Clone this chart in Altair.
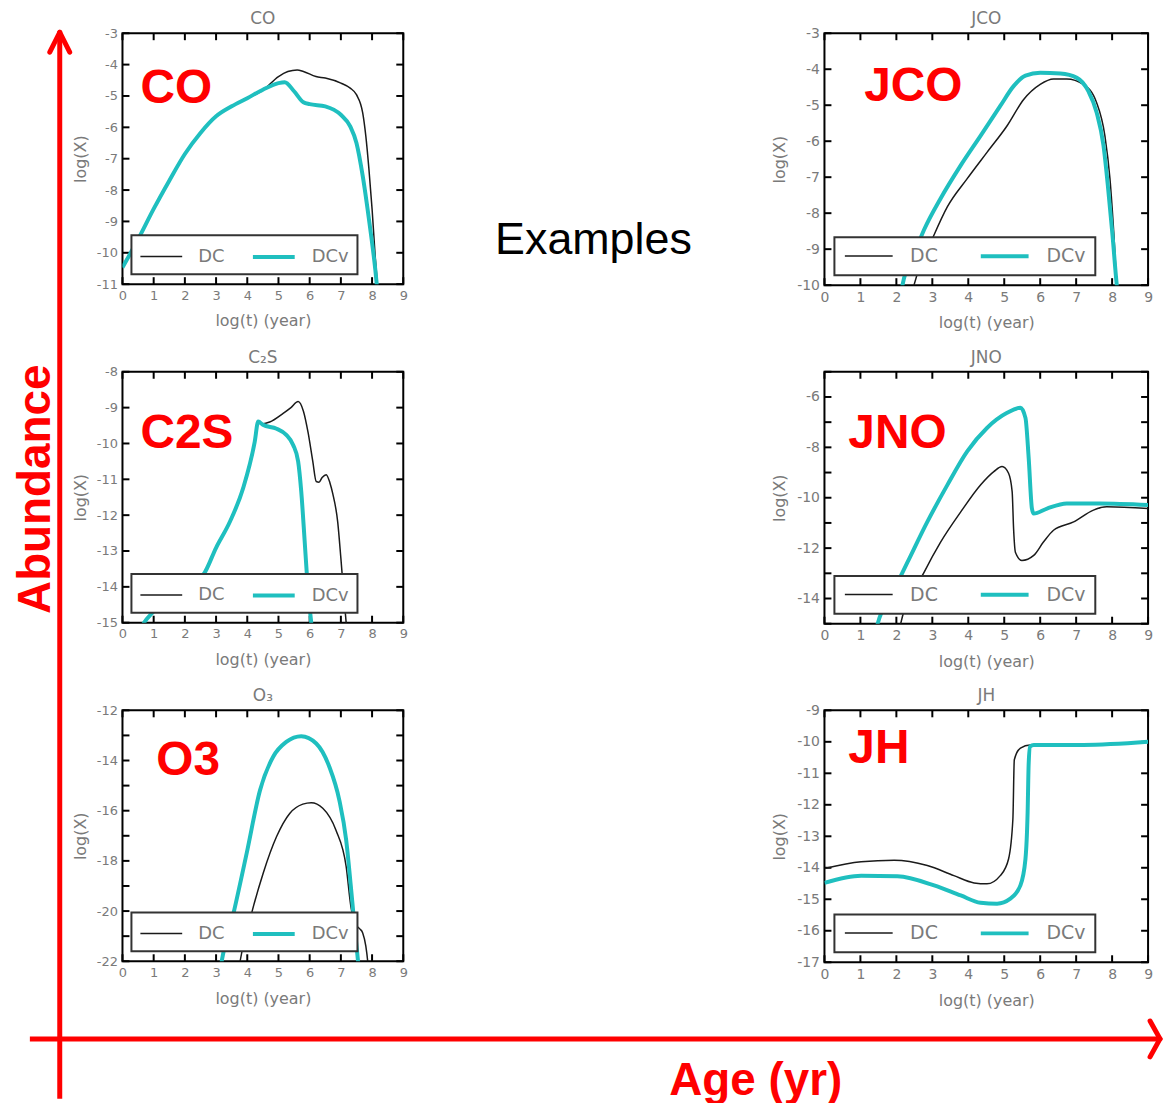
import altair as alt
import pandas as pd

# ---------------- data ----------------
MODELS = ["DC", "DCv"]
MODEL_COLORS = ["#1a1a1a", "#1fbfbf"]
MODEL_WIDTHS = [1.5, 4.0]
T_TICKS = list(range(0, 10))

# CO
co_t_dcv = [0, 0.5, 1, 1.5, 2, 2.5, 3, 3.5, 4, 4.5, 5, 5.2, 5.5, 5.8, 6, 6.5, 7, 7.3, 7.5, 7.7, 7.9, 8.1, 8.25]
co_x_dcv = [-10.47, -9.57, -8.6, -7.7, -6.85, -6.18, -5.65, -5.33, -5.07, -4.8, -4.59, -4.56, -4.85, -5.2, -5.26, -5.33, -5.6, -5.97, -6.5, -7.55, -8.93, -10.5, -12]
co_t_dc = [0, 0.5, 1, 1.5, 2, 2.5, 3, 3.5, 4, 4.5, 5, 5.3, 5.6, 5.8, 6.2, 6.5, 7, 7.3, 7.5, 7.7, 7.8, 7.9, 8.0, 8.1, 8.25]
co_x_dc = [-10.47, -9.57, -8.6, -7.7, -6.85, -6.18, -5.65, -5.33, -5.07, -4.82, -4.38, -4.22, -4.17, -4.22, -4.38, -4.43, -4.59, -4.75, -4.96, -5.54, -6.28, -7.34, -8.6, -10.1, -12]

# C2S
c2s_t_dcv = [0.5, 0.69, 0.96, 1.5, 2.0, 2.6, 3.0, 3.45, 3.87, 4.24, 4.35, 4.5, 4.94, 5.25, 5.47, 5.63, 5.73, 5.84, 5.91, 6.0, 6.05, 6.1]
c2s_x_dcv = [-15.3, -15.0, -14.72, -14.3, -14.0, -13.65, -12.91, -12.17, -11.24, -9.95, -9.39, -9.48, -9.59, -9.76, -10.04, -10.5, -11.34, -12.73, -13.65, -14.58, -15.0, -15.5]
c2s_t_dc = [0.5, 0.69, 0.96, 1.5, 2.0, 2.6, 3.0, 3.45, 3.87, 4.24, 4.35, 4.5, 4.72, 5.15, 5.4, 5.63, 5.8, 5.95, 6.1, 6.21, 6.3, 6.4, 6.53, 6.65, 6.74, 6.9, 7.0, 7.11, 7.17, 7.25]
c2s_x_dc = [-15.3, -15.0, -14.72, -14.3, -14.0, -13.65, -12.91, -12.17, -11.24, -9.95, -9.39, -9.45, -9.4, -9.16, -9.0, -8.83, -9.1, -9.7, -10.5, -11.06, -11.08, -10.95, -10.87, -11.1, -11.4, -12.2, -13.2, -14.4, -15.0, -15.8]

# O3
o3_t_dcv = [3.1, 3.18, 3.56, 3.98, 4.41, 4.83, 5.25, 5.73, 6.21, 6.63, 6.95, 7.17, 7.32, 7.46, 7.55, 7.6]
o3_x_dcv = [-22.6, -22.0, -20.08, -17.7, -15.18, -13.85, -13.26, -13.03, -13.32, -14.25, -15.58, -17.17, -19.02, -20.87, -22.0, -22.6]
o3_t_dc = [3.7, 3.77, 4.14, 4.51, 4.94, 5.36, 5.78, 6.05, 6.42, 6.84, 7.17, 7.32, 7.45, 7.6, 7.7, 7.8, 7.86, 7.9]
o3_x_dc = [-22.6, -22.0, -20.08, -18.49, -17.03, -16.11, -15.74, -15.68, -15.9, -16.77, -18.23, -19.81, -20.5, -20.7, -20.87, -21.4, -22.0, -22.6]

# JCO
jco_t_dcv = [2.1, 2.17, 2.49, 2.77, 3.23, 3.79, 4.34, 4.89, 5.26, 5.59, 6.0, 6.56, 7.02, 7.34, 7.57, 7.76, 7.89, 8.01, 8.13, 8.2]
jco_x_dcv = [-10.5, -10.0, -9.15, -8.46, -7.59, -6.67, -5.85, -5.02, -4.47, -4.18, -4.1, -4.12, -4.24, -4.61, -5.2, -6.12, -7.32, -8.6, -10.0, -10.6]
jco_t_dc = [2.4, 2.49, 3.05, 3.42, 3.97, 4.52, 5.08, 5.54, 6.0, 6.37, 6.74, 7.2, 7.57, 7.8, 7.94, 8.05, 8.13, 8.2]
jco_x_dc = [-10.4, -10.0, -8.6, -7.82, -7.04, -6.31, -5.57, -4.84, -4.42, -4.27, -4.27, -4.42, -4.93, -5.85, -7.04, -8.6, -10.0, -10.6]

# JNO
jno_t_dcv = [1.4, 1.48, 1.85, 2.31, 2.86, 3.42, 3.97, 4.52, 5.08, 5.45, 5.59, 5.68, 5.77, 5.82, 6.19, 6.74, 7.66, 9.0]
jno_x_dcv = [-15.5, -15.0, -13.9, -12.56, -10.96, -9.49, -8.16, -7.23, -6.63, -6.43, -6.83, -8.43, -10.43, -10.63, -10.43, -10.23, -10.23, -10.29]
jno_t_dc = [2.05, 2.12, 2.77, 3.23, 3.79, 4.34, 4.71, 4.94, 5.12, 5.22, 5.26, 5.31, 5.49, 5.82, 6.09, 6.37, 6.93, 7.48, 7.85, 9.0]
jno_x_dc = [-15.5, -15.0, -12.96, -11.76, -10.56, -9.49, -8.96, -8.76, -9.03, -9.76, -11.23, -12.16, -12.49, -12.29, -11.76, -11.29, -10.96, -10.49, -10.36, -10.43]

# JH
jh_t_dcv = [0, 1.02, 2.03, 3.05, 3.79, 4.34, 4.8, 5.17, 5.45, 5.59, 5.65, 5.68, 5.72, 5.82, 7.2, 9.0]
jh_x_dcv = [-14.48, -14.25, -14.27, -14.56, -14.88, -15.11, -15.14, -14.98, -14.56, -13.72, -12.25, -10.68, -10.15, -10.1, -10.1, -10.0]
jh_t_dc = [0, 1.02, 1.94, 2.86, 3.6, 4.16, 4.52, 4.89, 5.12, 5.24, 5.28, 5.45, 5.72, 7.2, 9.0]
jh_x_dc = [-14.02, -13.81, -13.76, -13.93, -14.25, -14.48, -14.51, -14.25, -13.72, -12.46, -10.57, -10.2, -10.1, -10.1, -10.0]

# ---------------- styling ----------------
GRAY = "#7a7a7a"
FONT = "DejaVu Sans"
RED = "#ff0000"
ONE = pd.DataFrame({"k": [0]})
X_TITLE = "log(t) (year)"
Y_TITLE = "log(X)"


def series_df(t_dc, x_dc, t_dcv, x_dcv):
    return pd.DataFrame({
        "t": list(t_dc) + list(t_dcv),
        "logX": list(x_dc) + list(x_dcv),
        "model": ["DC"] * len(t_dc) + ["DCv"] * len(t_dcv),
    })


def panel(title, label, t_dc, x_dc, t_dcv, x_dcv, y_domain, y_ticks, y_labels,
          width, height, label_pos, legend_pos, big, extra=None):
    lf = 14 if big else 13
    xs = alt.Scale(domain=[0, 9], nice=False, zero=False)
    ys = alt.Scale(domain=y_domain, nice=False, zero=False)
    xaxis = alt.Axis(
        values=T_TICKS, ticks=False, domain=False, grid=False,
        labelFlush=False, labelOverlap=False, labelPadding=5, labelColor=GRAY,
        labelFont=FONT, labelFontSize=lf, titleColor=GRAY, titleFont=FONT,
        titleFontSize=16, titleFontWeight="normal", titlePadding=11)
    yaxis = alt.Axis(
        values=y_labels, ticks=False, domain=False, grid=False,
        labelFlush=False, labelOverlap=False, labelPadding=5, labelColor=GRAY,
        labelFont=FONT, labelFontSize=lf,
        labelExpr="(datum.value < 0 ? '-' : '') + abs(datum.value)",
        titleColor=GRAY, titleFont=FONT, titleFontSize=16,
        titleFontWeight="normal", titlePadding=9 if big else 8)
    if big:
        leg = dict(symbolType="M-1,0H5", symbolSize=256, labelFontSize=19,
                   labelOffset=48, columnPadding=35, padding=9)
    else:
        leg = dict(symbolType="M-1,0H2.65", symbolSize=529, labelFontSize=18,
                   labelOffset=34, columnPadding=20, padding=8)
    legend = alt.Legend(orient="none", legendX=legend_pos[0], legendY=legend_pos[1],
                        direction="horizontal", title=None,
                        fillColor="white", strokeColor="#333333",
                        labelColor=GRAY, labelFont=FONT, **leg)
    lines = alt.Chart(series_df(t_dc, x_dc, t_dcv, x_dcv)).mark_line(
        clip=True, interpolate="monotone"
    ).encode(
        x=alt.X("t:Q", scale=xs, title=X_TITLE, axis=xaxis),
        y=alt.Y("logX:Q", scale=ys, title=Y_TITLE, axis=yaxis),
        color=alt.Color("model:N", scale=alt.Scale(domain=MODELS, range=MODEL_COLORS), legend=legend),
        strokeWidth=alt.StrokeWidth("model:N", scale=alt.Scale(type="ordinal", domain=MODELS, range=MODEL_WIDTHS), legend=legend),
    )
    xt = pd.DataFrame({"t": T_TICKS})
    yt = pd.DataFrame({"logX": y_ticks})
    tick = dict(color="black", strokeWidth=2)
    xbot = alt.Chart(xt).mark_rule(**tick).encode(
        x=alt.X("t:Q", scale=xs, title=X_TITLE, axis=xaxis), y=alt.value(height), y2=alt.value(height - 7))
    xtop = alt.Chart(xt).mark_rule(**tick).encode(
        x=alt.X("t:Q", scale=xs, title=X_TITLE, axis=xaxis), y=alt.value(0), y2=alt.value(7))
    yl = alt.Chart(yt).mark_rule(**tick).encode(
        y=alt.Y("logX:Q", scale=ys, title=Y_TITLE, axis=yaxis), x=alt.value(0), x2=alt.value(7))
    yr = alt.Chart(yt).mark_rule(**tick).encode(
        y=alt.Y("logX:Q", scale=ys, title=Y_TITLE, axis=yaxis), x=alt.value(width), x2=alt.value(width - 7))
    lab = alt.Chart(pd.DataFrame({"label": [label]})).mark_text(
        font="Liberation Sans", fontWeight="bold", fontSize=48, color=RED,
        align="left", baseline="alphabetic"
    ).encode(text="label:N", x=alt.value(label_pos[0]), y=alt.value(label_pos[1]))
    ttl = alt.Chart(pd.DataFrame({"title": [title]})).mark_text(
        font=FONT, fontSize=17, color=GRAY, align="center", baseline="alphabetic"
    ).encode(text="title:N", x=alt.value(width / 2), y=alt.value(-9))
    layers = []
    if extra:
        layers += extra[:1]
    layers += [xbot, xtop, yl, yr, lines, lab, ttl]
    if extra:
        layers += extra[1:]
    return alt.layer(*layers).properties(width=width, height=height)


# decorations, positioned relative to the top-left panel (plot origin at 122,30)
def rule(x1, y1, x2, y2, w=5):
    return alt.Chart(ONE).mark_rule(color=RED, strokeWidth=w, strokeCap="round").encode(
        x=alt.value(x1), y=alt.value(y1), x2=alt.value(x2), y2=alt.value(y2))


anchor = alt.Chart(ONE).mark_rect(opacity=0).encode(
    x=alt.value(-122), x2=alt.value(1042), y=alt.value(-30), y2=alt.value(1073))
deco = [
    anchor,
    alt.Chart(ONE).mark_rule(color=RED, strokeWidth=5).encode(
        x=alt.value(-63), y=alt.value(0), y2=alt.value(1070)),
    rule(-73, 19, -63, -1),
    rule(-53, 19, -63, -1),
    alt.Chart(ONE).mark_rule(color=RED, strokeWidth=5).encode(
        x=alt.value(-93), x2=alt.value(1040), y=alt.value(1010)),
    rule(1032, 992, 1042, 1010),
    rule(1032, 1028, 1042, 1010),
    alt.Chart(pd.DataFrame({"s": ["Abundance"]})).mark_text(
        font="Liberation Sans", fontWeight="bold", fontSize=46, color=RED, angle=270,
        align="center", baseline="alphabetic"
    ).encode(text="s:N", x=alt.value(-73), y=alt.value(458)),
    alt.Chart(pd.DataFrame({"s": ["Age (yr)"]})).mark_text(
        font="Liberation Sans", fontWeight="bold", fontSize=46, color=RED,
        align="center", baseline="alphabetic"
    ).encode(text="s:N", x=alt.value(636), y=alt.value(1066)),
    alt.Chart(pd.DataFrame({"s": ["Examples"]})).mark_text(
        font="Liberation Sans", fontSize=45, color="black",
        align="center", baseline="alphabetic"
    ).encode(text="s:N", x=alt.value(473), y=alt.value(222)),
]

LW, LH = 282, 252
RW, RH = 325, 253

p_co = panel("CO", "CO", co_t_dc, co_x_dc, co_t_dcv, co_x_dcv, [-11, -3],
             list(range(-11, -2)), list(range(-11, -2)), LW, LH, (18, 70), (9, 203), False, deco)
p_jco = panel("JCO", "JCO", jco_t_dc, jco_x_dc, jco_t_dcv, jco_x_dcv, [-10, -3],
              list(range(-10, -2)), list(range(-10, -2)), RW, RH, (40, 68), (10, 205), True)
p_c2s = panel("C₂S", "C2S", c2s_t_dc, c2s_x_dc, c2s_t_dcv, c2s_x_dcv, [-15, -8],
              list(range(-15, -7)), list(range(-15, -7)), LW, LH, (18, 77), (9, 203), False)
p_jno = panel("JNO", "JNO", jno_t_dc, jno_x_dc, jno_t_dcv, jno_x_dcv, [-15, -5],
              list(range(-15, -4)), list(range(-14, -5, 2)), RW, RH, (24, 77), (10, 205), True)
p_o3 = panel("O₃", "O3", o3_t_dc, o3_x_dc, o3_t_dcv, o3_x_dcv, [-22, -12],
             list(range(-22, -11)), list(range(-22, -11, 2)), LW, LH, (34, 65), (9, 203), False)
p_jh = panel("JH", "JH", jh_t_dc, jh_x_dc, jh_t_dcv, jh_x_dcv, [-17, -9],
             list(range(-17, -8)), list(range(-17, -8)), RW, RH, (24, 53), (10, 205), True)

chart = alt.concat(
    p_co, p_jco, p_c2s, p_jno, p_o3, p_jh,
    columns=2, spacing={"row": 87, "column": 380}, bounds="flush", align="all",
).resolve_scale(
    x="independent", y="independent", color="independent", strokeWidth="independent"
).properties(
    padding=0, background="white"
).configure_view(
    stroke="black", strokeWidth=2
).configure_legend(
    strokeWidth=2
)

chart.save("out.html", embed_options={"renderer": "svg", "actions": False})
